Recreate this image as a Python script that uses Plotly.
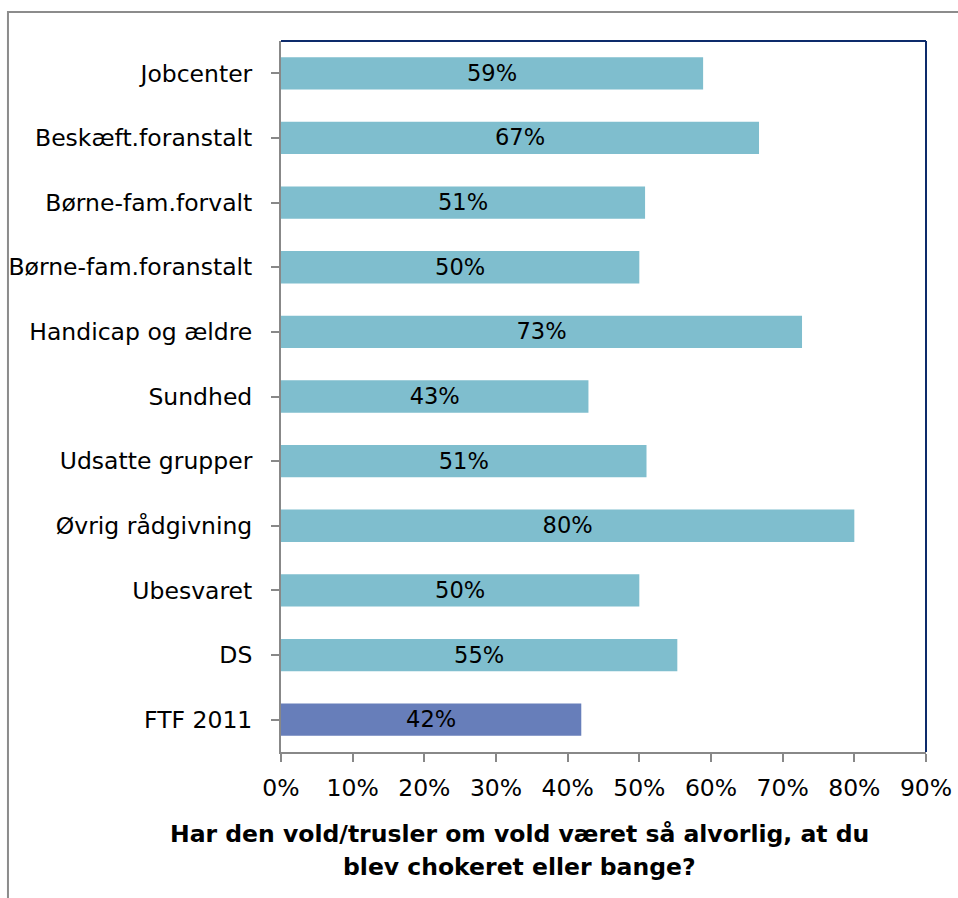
import plotly.graph_objects as go

categories = ["Jobcenter", "Beskæft.foranstalt", "Børne-fam.forvalt", "Børne-fam.foranstalt",
              "Handicap og ældre", "Sundhed", "Udsatte grupper", "Øvrig rådgivning",
              "Ubesvaret", "DS", "FTF 2011"]
values = [58.9, 66.7, 50.8, 50.0, 72.7, 42.9, 51.0, 80.0, 50.0, 55.3, 41.9]
bar_labels = ["59%", "67%", "51%", "50%", "73%", "43%", "51%", "80%", "50%", "55%", "42%"]
bar_colors = ["#7FBECE"] * 10 + ["#677EBA"]
x_ticks = [0, 10, 20, 30, 40, 50, 60, 70, 80, 90]
x_tick_labels = [f"{t}%" for t in x_ticks]
title_lines = ["Har den vold/trusler om vold været så alvorlig, at du",
               "blev chokeret eller bange?"]

FONT = "DejaVu Sans"

fig = go.Figure(go.Bar(
    y=categories, x=values, orientation="h",
    marker=dict(color=bar_colors, line=dict(width=0)),
    width=0.5,
    text=bar_labels, textposition="inside", insidetextanchor="middle",
    textfont=dict(family=FONT, size=24, color="black"),
    hoverinfo="skip",
))

fig.update_layout(
    width=958, height=898,
    margin=dict(l=281, r=32, t=41, b=146, autoexpand=False),
    paper_bgcolor="white", plot_bgcolor="white",
    showlegend=False,
    font=dict(family=FONT, size=23, color="black"),
    xaxis=dict(
        range=[0, 90], tickvals=x_ticks, ticktext=x_tick_labels,
        showgrid=False, zeroline=False, automargin=False,
        showline=True, linecolor="#888888", linewidth=2,
        ticks="outside", ticklen=8, tickcolor="#888888", tickwidth=2,
        tickfont=dict(family=FONT, size=23.5, color="black"),
        ticklabeloverflow="allow", ticklabelstandoff=6,
    ),
    yaxis=dict(
        categoryorder="array", categoryarray=categories[::-1],
        showgrid=False, zeroline=False, automargin=False,
        showline=True, linecolor="#888888", linewidth=2,
        ticks="outside", ticklen=8, tickcolor="#888888", tickwidth=2,
        tickfont=dict(family=FONT, size=23.5, color="black"),
        ticklabelstandoff=14,
    ),
    annotations=[
        dict(text=f"<b>{title_lines[0]}</b>", xref="paper", yref="paper",
             x=0.3705, y=-0.1153, xanchor="center", yanchor="middle", showarrow=False,
             font=dict(family=FONT, size=23.5, color="black")),
        dict(text=f"<b>{title_lines[1]}</b>", xref="paper", yref="paper",
             x=0.3705, y=-0.1617, xanchor="center", yanchor="middle", showarrow=False,
             font=dict(family=FONT, size=23.5, color="black")),
    ],
    shapes=[
        dict(type="rect", xref="paper", yref="paper", x0=-0.4233, x1=1.2, y0=-0.4, y1=1.0408,
             line=dict(color="#8c8c8c", width=2), layer="below"),
        dict(type="line", xref="paper", yref="paper", x0=0, x1=1, y0=1, y1=1,
             line=dict(color="#0d2b6b", width=2)),
        dict(type="line", xref="paper", yref="paper", x0=1, x1=1, y0=0, y1=1,
             line=dict(color="#0d2b6b", width=2)),
    ],
)

fig.write_html("out.html", config={"displayModeBar": False},
               post_script="document.body.style.margin='0';document.body.style.overflow='hidden';")
